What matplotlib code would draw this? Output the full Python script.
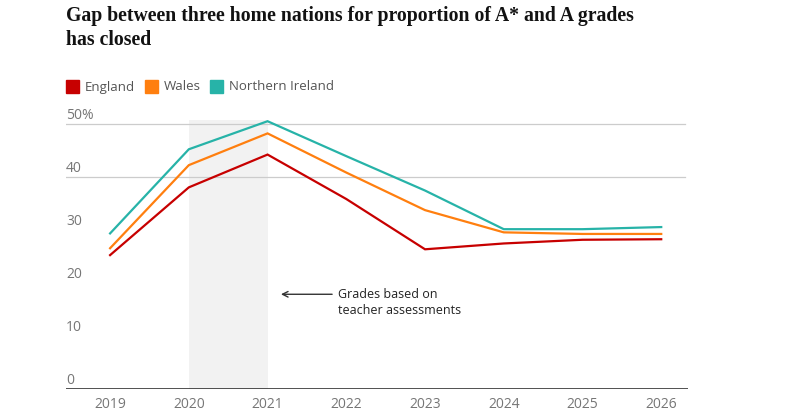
import matplotlib.pyplot as plt

years = [2019, 2020, 2021, 2022, 2023, 2024, 2025, 2026]
england = [25.3, 38.1, 44.3, 35.9, 26.4, 27.5, 28.2, 28.3]
wales = [26.6, 42.3, 48.3, 40.9, 33.8, 29.6, 29.3, 29.3]
n_ireland = [29.4, 45.3, 50.6, 44.0, 37.5, 30.2, 30.2, 30.6]
yticks = [0, 10, 20, 30, 40, 50]
ytick_labels = ["0", "10", "20", "30", "40", "50%"]

red = "#c70000"
orange = "#ff7f0f"
teal = "#27b3a8"
grey = "#767676"

plt.rcParams['font.family'] = ['Open Sans', 'DejaVu Sans']

fig = plt.figure(figsize=(8, 4.2), dpi=100)
ax = fig.add_axes([0.0825, 0.0738, 0.7775, 0.659])

# shaded teacher-assessment years
ax.fill_between([2020, 2021], 0, 50.8, color="#f2f2f2", lw=0, zorder=0)

# gridlines (only 40 and 50 drawn in the original)
for g in [40, 50]:
    ax.axhline(g, color="#cccccc", lw=0.9, xmax=0.995, zorder=1)
ax.axhline(0, color="#333333", lw=1.2, zorder=3)

ax.plot(years, england, color=red, lw=1.6, zorder=4, solid_joinstyle='miter')
ax.plot(years, wales, color=orange, lw=1.6, zorder=4, solid_joinstyle='miter')
ax.plot(years, n_ireland, color=teal, lw=1.6, zorder=4, solid_joinstyle='miter')

ax.set_xlim(2018.44, 2026.34)
ax.set_ylim(0, 52.3)
for s in ax.spines.values():
    s.set_visible(False)
ax.set_yticks([])
ax.set_xticks(years)
ax.set_xticklabels([str(y) for y in years], color=grey, fontsize=10)
ax.tick_params(axis='x', length=0, pad=6)

for v, lab in zip(yticks, ytick_labels):
    ax.text(2018.44, v + 0.2, lab, color=grey, fontsize=10, ha='left', va='bottom')

# annotation
ax.annotate("", xy=(2021.17, 17.9), xytext=(2021.82, 17.9),
            arrowprops=dict(arrowstyle="->", color="#333333", lw=1.0,
                            shrinkA=0, shrinkB=0), zorder=5)
ax.text(2021.90, 19.1, "Grades based on\nteacher assessments", fontsize=9,
        color="#222222", ha='left', va='top', linespacing=1.3)

# title
fig.text(66 / 800, 1 - 6 / 420,
         "Gap between three home nations for proportion of A* and A grades\nhas closed",
         fontsize=14.2, fontweight='bold', family='Liberation Serif', color="#121212",
         ha='left', va='top', linespacing=1.25)

# legend
items = [("England", red, 66), ("Wales", orange, 145), ("Northern Ireland", teal, 210)]
for name, col, x in items:
    fig.patches.append(plt.Rectangle((x / 800, 1 - 93 / 420), 13 / 800, 13 / 420,
                                     color=col, transform=fig.transFigure, figure=fig))
    fig.text((x + 19) / 800, 1 - 87 / 420, name, fontsize=9.5, color="#555555",
             ha='left', va='center')

fig.savefig("out.png", dpi=100)
